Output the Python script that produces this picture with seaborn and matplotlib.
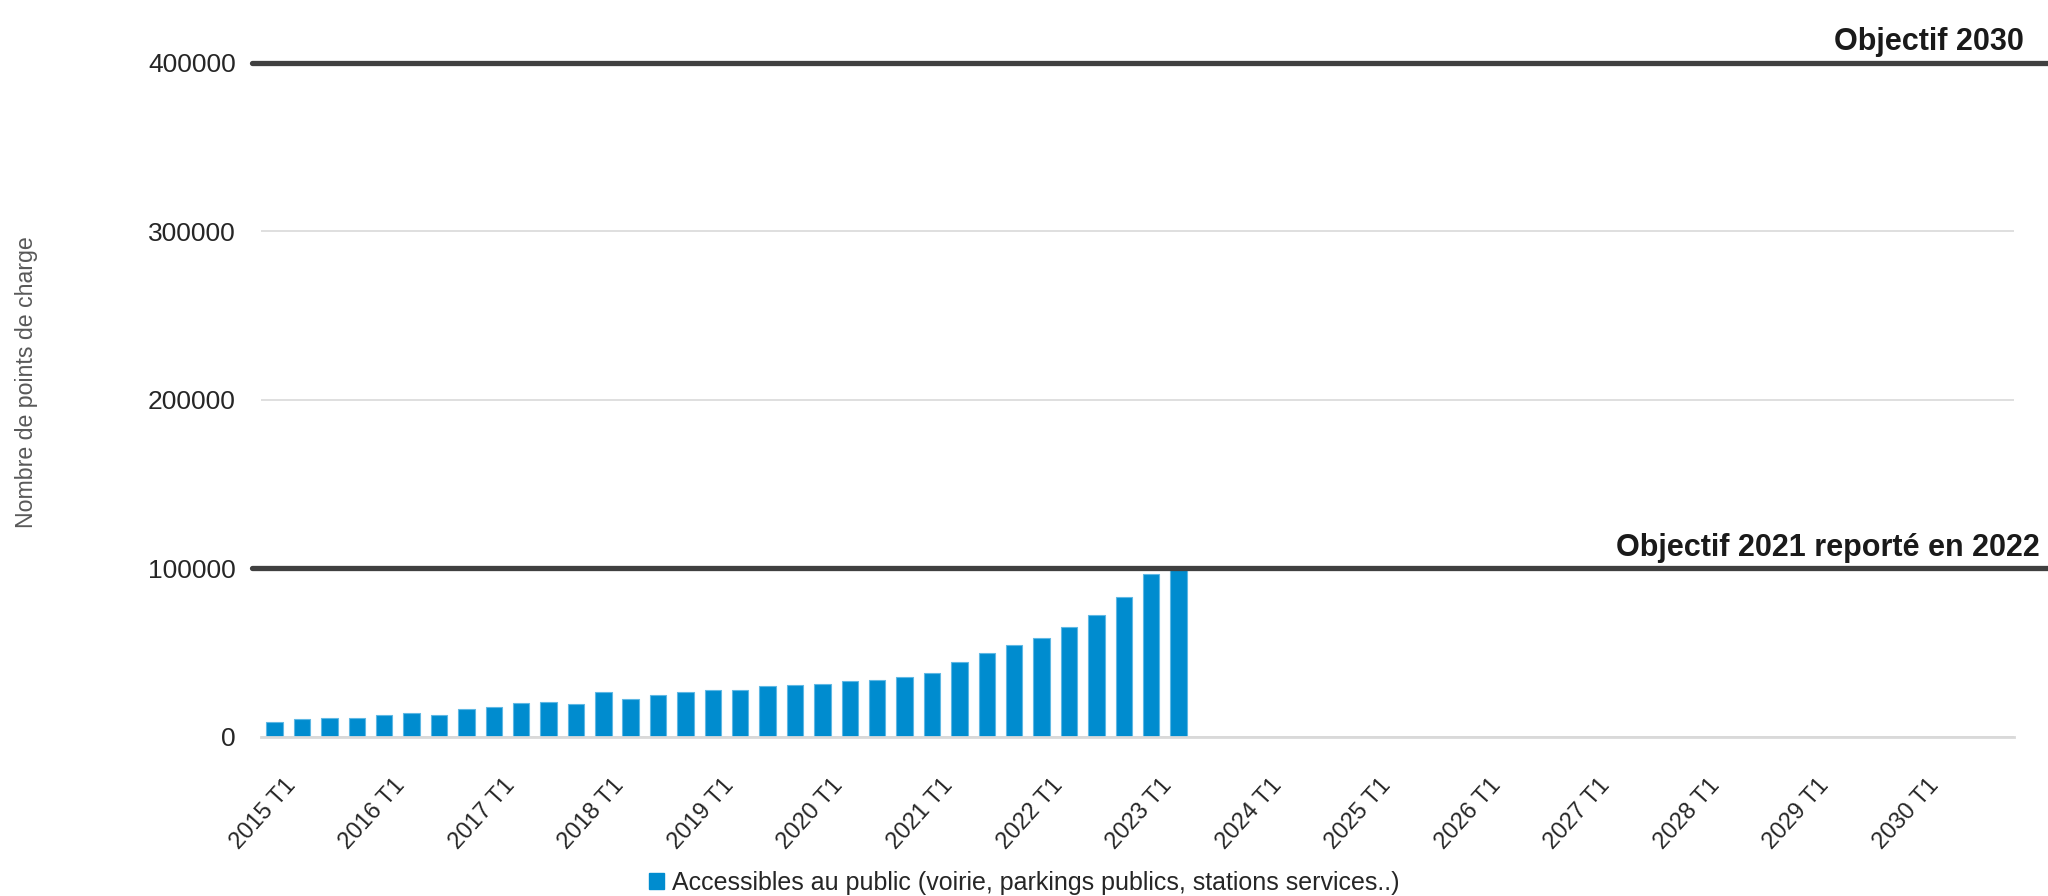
import pandas as pd
import matplotlib
matplotlib.use("Agg")
import matplotlib.pyplot as plt
import matplotlib.transforms as mtransforms
from matplotlib.lines import Line2D
from matplotlib.patches import Patch
import seaborn as sns

# quarters from 2015 T1 to 2030 T4, only the first 34 have data
years = list(range(2015, 2031))
quarters = [f"{y} T{q}" for y in years for q in range(1, 5)]
tick_labels = [f"{y} T1" for y in years]
values = [8600, 10200, 11200, 11200, 13000, 14000, 13000, 16400,
          17600, 20000, 20800, 19600, 26600, 22400, 24600, 26600,
          27800, 27900, 30000, 30500, 31500, 33000, 33800, 35100,
          37900, 44100, 49500, 54100, 58300, 65100, 72300, 83000,
          96800, 100500]
y_ticks = [0, 100000, 200000, 300000, 400000]
objectives = [100000, 400000]
objective_labels = ["Objectif 2021 reporté en 2022", "Objectif 2030"]
series_label = "Accessibles au public (voirie, parkings publics, stations services..)"

df = pd.DataFrame({"trimestre": quarters[:len(values)], "points": values})

sns.set_theme(style="white")
plt.rcParams["font.family"] = ["Liberation Sans Narrow", "Liberation Sans", "DejaVu Sans"]

fig = plt.figure(figsize=(20.48, 8.96), dpi=100)
ax = fig.add_axes([0.1274, 0.1779, 0.8560, 0.7522])

sns.barplot(data=df, x="trimestre", y="points", order=quarters, color="#008ccf",
            saturation=1, width=0.6, edgecolor="#5fb8e4", linewidth=0.8, ax=ax)

ax.set_ylim(0, 400000)
ax.set_yticks(y_ticks)
ax.set_yticklabels([str(v) for v in y_ticks])
ax.grid(axis="y", color="#d9d9d9", linewidth=1.2)
ax.set_axisbelow(True)
for side in ["left", "right", "top"]:
    ax.spines[side].set_visible(False)
ax.spines["bottom"].set_color("#d9d9d9")
ax.spines["bottom"].set_linewidth(2)

ax.tick_params(axis="y", length=0, labelsize=19, labelcolor="#262626", pad=18)
ax.set_xticks(range(0, len(quarters), 4))
ax.set_xticklabels(tick_labels, rotation=48, ha="right", rotation_mode="anchor",
                   fontsize=17, color="#262626")
ax.tick_params(axis="x", length=0, pad=27)
shift = mtransforms.ScaledTranslation(0.09, 0, fig.dpi_scale_trans)
for lbl in ax.get_xticklabels():
    lbl.set_transform(lbl.get_transform() + shift)

ax.set_xlabel("")
ax.set_ylabel("Nombre de points de charge", fontsize=16.7, color="#595959",
              family=["Liberation Sans", "DejaVu Sans"])
ax.yaxis.set_label_coords(-0.127, 0.526)

# objective lines run past the plot area to the right edge
blend = mtransforms.blended_transform_factory(fig.transFigure, ax.transData)
for val, lab, xr in zip(objectives, objective_labels, [0.996, 0.988]):
    fig.add_artist(Line2D([0.123, 1.0], [val, val], transform=blend,
                          color="#404040", linewidth=3.8))
    ax.annotate(lab, xy=(xr, val), xycoords=blend, xytext=(0, 9),
                textcoords="offset points", ha="right", va="baseline",
                fontsize=22, fontweight="bold", color="#1a1a1a",
                family=["Liberation Sans", "DejaVu Sans"], annotation_clip=False)

fig.legend(handles=[Patch(color="#008ccf", label=series_label)], loc="center",
           bbox_to_anchor=(0.5, 0.0145), frameon=False, fontsize=18,
           handlelength=0.6, handleheight=0.6, handletextpad=0.3)

fig.savefig("out.png", dpi=100)
